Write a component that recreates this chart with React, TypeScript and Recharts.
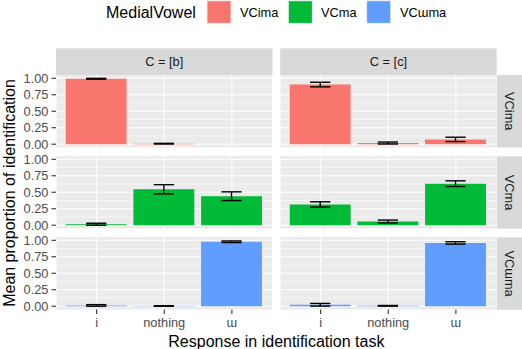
import { BarChart, Bar, XAxis, YAxis, CartesianGrid, ErrorBar } from 'recharts';

const responses = ['i', 'nothing', 'ɯ'];
const consonants = ['C = [b]', 'C = [c]'];
const vowels = ['VCima', 'VCma', 'VCɯma'];
const vowelColors = ['#F8766D', '#00BA38', '#619CFF'];
const majorTicks = [0, 0.25, 0.5, 0.75, 1];
const minorTicks = [0.125, 0.375, 0.625, 0.875];

// mean proportion per response (i, nothing, ɯ) and its error
const meanB_VCima = [0.993, 0.008, 0.0];
const errB_VCima = [0.006, 0.005, 0.002];
const meanB_VCma = [0.015, 0.545, 0.44];
const errB_VCma = [0.015, 0.07, 0.066];
const meanB_VCuma = [0.012, 0.004, 0.978];
const errB_VCuma = [0.012, 0.004, 0.012];

const meanC_VCima = [0.905, 0.018, 0.073];
const errC_VCima = [0.035, 0.015, 0.033];
const meanC_VCma = [0.315, 0.056, 0.63];
const errC_VCma = [0.04, 0.022, 0.043];
const meanC_VCuma = [0.022, 0.006, 0.96];
const errC_VCuma = [0.02, 0.005, 0.018];

const means = [
  [meanB_VCima, meanC_VCima],
  [meanB_VCma, meanC_VCma],
  [meanB_VCuma, meanC_VCuma],
];
const errs = [
  [errB_VCima, errC_VCima],
  [errB_VCma, errC_VCma],
  [errB_VCuma, errC_VCuma],
];

// layout
const plotW = 216.5;
const plotH = 72.5;
const yAxisW = 56;
const xAxisH = 27;
const pad = 7; // room so tick labels at panel edges are not clipped
const colX = [56, 280.2];
const rowY = [75, 156.3, 237.3];
const stripTop = 48.3;
const stripH = 26.7;
const small = 12.8;
const big = 16;
const unit = plotW / 3.2; // ggplot discrete scale: 3 levels + 0.6 expansion each side

function Panel({ row, col }: { row: number; col: number }) {
  const data = responses.map((r, k) => ({
    response: r,
    mean: means[row][col][k],
    err: errs[row][col][k],
  }));
  const showY = col === 0;
  const showX = row === 2;
  const width = plotW + (showY ? yAxisW : 0);
  const height = plotH + pad + (showX ? xAxisH : pad);
  const left = colX[col] - (showY ? yAxisW : 0);
  return (
    <div style={{ position: 'absolute', left, top: rowY[row] - pad }}>
      <BarChart
        width={width}
        height={height}
        data={data}
        margin={{ top: pad, right: 0, bottom: showX ? 0 : pad, left: 0 }}
      >
        <CartesianGrid
          fill="#EBEBEB"
          stroke="#FFFFFF"
          strokeWidth={1.1}
          horizontalValues={majorTicks}
        />
        <CartesianGrid
          vertical={false}
          stroke="#FFFFFF"
          strokeWidth={0.55}
          horizontalValues={minorTicks}
        />
        <XAxis
          dataKey="response"
          hide={!showX}
          height={showX ? xAxisH : 0}
          padding={{ left: unit * 0.1, right: unit * 0.1 }}
          interval={0}
          axisLine={false}
          tickSize={4.5}
          tickMargin={4}
          tickLine={{ stroke: '#333333', strokeWidth: 1.1 }}
          tick={{ fill: '#4D4D4D', fontSize: small }}
        />
        <YAxis
          type="number"
          domain={[-0.05, 1.05]}
          allowDataOverflow
          ticks={majorTicks}
          interval={0}
          hide={!showY}
          width={showY ? yAxisW : 0}
          axisLine={false}
          tickSize={4.5}
          tickMargin={3}
          tickLine={{ stroke: '#333333', strokeWidth: 1.1 }}
          tick={{ fill: '#4D4D4D', fontSize: small }}
          tickFormatter={(v: number) => v.toFixed(2)}
        />
        <Bar dataKey="mean" fill={vowelColors[row]} barSize={unit * 0.9} isAnimationActive={false}>
          <ErrorBar dataKey="err" direction="y" width={unit * 0.15} stroke="#000000" strokeWidth={1.4} />
        </Bar>
      </BarChart>
    </div>
  );
}

export default function App() {
  const legendKeyX = [207, 288.3, 366.7];
  const legendTextX = [240, 321, 400];
  return (
    <div
      style={{
        position: 'absolute',
        left: 0,
        top: 0,
        width: 522,
        height: 349,
        background: '#FFFFFF',
        fontFamily: '"Liberation Sans", Arial, sans-serif',
      }}
    >
      {[0, 1, 2].map((row) =>
        [0, 1].map((col) => <Panel key={`${row}-${col}`} row={row} col={col} />)
      )}
      <svg
        width={522}
        height={349}
        style={{ position: 'absolute', left: 0, top: 0, pointerEvents: 'none' }}
        fontFamily='"Liberation Sans", Arial, sans-serif'
      >
        {/* legend */}
        <text x={106} y={18} fontSize={big} fill="#000000">MedialVowel</text>
        {vowels.map((v, i) => (
          <g key={v}>
            <rect x={legendKeyX[i]} y={0.8} width={24} height={22.5} fill={vowelColors[i]} stroke="#F2F2F2" strokeWidth={0.8} />
            <text x={legendTextX[i]} y={17.3} fontSize={small} fill="#000000">{v}</text>
          </g>
        ))}
        {/* top strips */}
        {consonants.map((c, i) => (
          <g key={c}>
            <rect x={colX[i]} y={stripTop} width={plotW} height={stripH} fill="#D9D9D9" />
            <text x={colX[i] + plotW / 2} y={stripTop + stripH / 2 + 4.6} fontSize={small} fill="#1A1A1A" textAnchor="middle">{c}</text>
          </g>
        ))}
        {/* right strips */}
        {vowels.map((v, i) => {
          const cx = 509.5;
          const cy = rowY[i] + plotH / 2;
          return (
            <g key={v}>
              <rect x={colX[1] + plotW} y={rowY[i]} width={stripH} height={plotH} fill="#D9D9D9" />
              <text x={cx} y={cy + 4.6} fontSize={small} fill="#1A1A1A" textAnchor="middle" transform={`rotate(90, ${cx}, ${cy})`}>{v}</text>
            </g>
          );
        })}
        {/* axis titles */}
        <text x={(colX[0] + colX[1] + plotW) / 2} y={346.7} fontSize={big} fill="#000000" textAnchor="middle">
          Response in identification task
        </text>
        <text x={9} y={193 + 5.7} fontSize={big} fill="#000000" textAnchor="middle" transform="rotate(-90, 9, 193)">
          Mean proportion of identification
        </text>
      </svg>
    </div>
  );
}
